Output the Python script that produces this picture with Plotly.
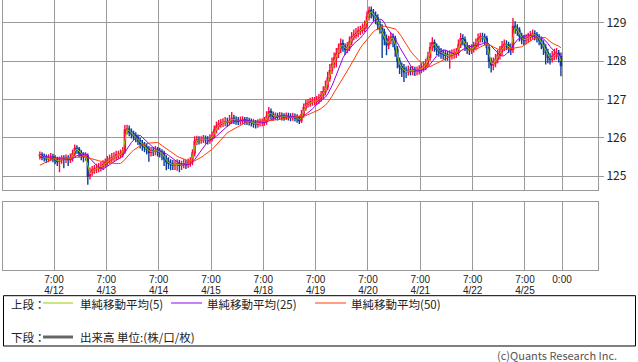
import plotly.graph_objects as go
import pandas as pd

# ---------------- data (hourly bars, trading-hour index from 4/12 0:00 JST) ----------------
pre_close = [125.00, 125.02, 124.98, 125.05, 125.08, 125.10, 125.15, 125.25,
             125.35, 125.42, 125.48, 125.50, 125.52, 125.50, 125.53]

close = [
    # 4/12
    125.55, 125.50, 125.48, 125.45, 125.47, 125.50, 125.47, 125.42, 125.38, 125.42, 125.45, 125.44,
    125.46, 125.43, 125.47, 125.58, 125.72, 125.70, 125.60, 125.55, 125.50, 125.52, 125.00, 125.10,
    # 4/13
    125.15, 125.18, 125.20, 125.22, 125.25, 125.30, 125.35, 125.40, 125.45, 125.48, 125.50, 125.55,
    125.55, 125.58, 125.65, 126.20, 126.22, 126.15, 126.10, 126.05, 126.00, 125.92, 125.85, 125.80,
    # 4/14
    125.75, 125.70, 125.62, 125.66, 125.65, 125.67, 125.64, 125.62, 125.58, 125.45, 125.38, 125.33,
    125.30, 125.28, 125.30, 125.32, 125.28, 125.30, 125.32, 125.30, 125.35, 125.38, 125.60, 125.90,
    # 4/15
    125.95, 125.93, 125.95, 125.97, 125.95, 125.93, 125.98, 126.05, 126.20, 126.30, 126.35, 126.38,
    126.40, 126.42, 126.40, 126.45, 126.50, 126.47, 126.45, 126.43, 126.45, 126.46, 126.44, 126.43,
    # 4/16 - 4/18
    126.42, 126.40, 126.37, 126.35, 126.38, 126.40, 126.40, 126.42, 126.55, 126.68, 126.60, 126.55,
    126.56, 126.55, 126.57, 126.55, 126.54, 126.56, 126.55, 126.53, 126.55, 126.52, 126.50, 126.45,
    # 4/19
    126.60, 126.78, 126.88, 126.90, 126.93, 126.95, 126.95, 126.97, 127.03, 127.10, 127.20, 127.32,
    127.55, 127.75, 127.92, 128.08, 128.20, 128.32, 128.45, 128.38, 128.30, 128.35, 128.50, 128.63,
    # 4/20
    128.68, 128.72, 128.78, 128.80, 128.85, 128.92, 129.15, 129.32, 129.25, 129.18, 129.12, 128.95,
    128.85, 128.75, 128.58, 128.42, 128.55, 128.62, 128.58, 128.30, 128.00, 127.85, 127.80, 127.72,
    # 4/21
    127.72, 127.76, 127.74, 127.76, 127.73, 127.75, 127.78, 127.82, 127.86, 127.93, 128.10, 128.35,
    128.48, 128.38, 128.30, 128.25, 128.20, 128.18, 128.15, 128.14, 128.16, 128.18, 128.20, 128.22,
    # 4/22
    128.42, 128.58, 128.55, 128.40, 128.32, 128.30, 128.32, 128.38, 128.45, 128.58, 128.63, 128.62,
    128.58, 128.35, 128.00, 127.90, 127.95, 128.05, 128.15, 128.25, 128.38, 128.43, 128.42, 128.35,
    # 4/23 - 4/25
    128.30, 128.90, 128.85, 128.80, 128.65, 128.58, 128.55, 128.58, 128.62, 128.66, 128.70, 128.68,
    128.62, 128.55, 128.45, 128.35, 128.22, 128.10, 128.05, 128.12, 128.18, 128.20, 128.12, 127.88,
]

high = [
    125.64, 125.62, 125.59, 125.56, 125.57, 125.60, 125.58, 125.54, 125.50, 125.51, 125.54, 125.54,
    125.56, 125.54, 125.59, 125.69, 125.82, 125.80, 125.76, 125.68, 125.62, 125.62, 125.59, 125.22,
    125.26, 125.29, 125.32, 125.34, 125.37, 125.41, 125.46, 125.52, 125.56, 125.60, 125.62, 125.66,
    125.66, 125.69, 125.76, 126.33, 126.34, 126.32, 126.24, 126.18, 126.14, 126.08, 126.00, 125.94,
    125.89, 125.84, 125.78, 125.76, 125.76, 125.78, 125.76, 125.74, 125.70, 125.66, 125.54, 125.49,
    125.44, 125.42, 125.41, 125.44, 125.42, 125.40, 125.44, 125.42, 125.46, 125.49, 125.70, 126.04,
    126.05, 126.04, 126.04, 126.07, 126.06, 126.04, 126.09, 126.16, 126.32, 126.42, 126.46, 126.49,
    126.51, 126.54, 126.52, 126.59, 126.67, 126.60, 126.56, 126.54, 126.55, 126.56, 126.54, 126.54,
    126.52, 126.50, 126.48, 126.46, 126.48, 126.50, 126.50, 126.54, 126.69, 126.80, 126.76, 126.68,
    126.66, 126.65, 126.67, 126.66, 126.64, 126.66, 126.65, 126.64, 126.65, 126.63, 126.61, 126.58,
    126.72, 126.89, 126.99, 127.01, 127.04, 127.06, 127.06, 127.09, 127.14, 127.22, 127.34, 127.49,
    127.72, 127.92, 128.09, 128.22, 128.34, 128.46, 128.59, 128.56, 128.46, 128.49, 128.64, 128.76,
    128.82, 128.86, 128.90, 128.92, 128.98, 129.06, 129.29, 129.42, 129.42, 129.36, 129.29, 129.22,
    129.06, 128.96, 128.84, 128.69, 128.66, 128.74, 128.72, 128.66, 128.39, 128.09, 127.96, 127.92,
    127.86, 127.88, 127.86, 127.87, 127.85, 127.86, 127.89, 127.94, 127.99, 128.06, 128.24, 128.49,
    128.62, 128.56, 128.46, 128.40, 128.34, 128.30, 128.28, 128.26, 128.28, 128.30, 128.32, 128.34,
    128.56, 128.73, 128.70, 128.64, 128.49, 128.42, 128.44, 128.50, 128.59, 128.72, 128.74, 128.74,
    128.72, 128.66, 128.44, 128.09, 128.09, 128.19, 128.29, 128.39, 128.52, 128.56, 128.54, 128.50,
    128.46, 129.12, 129.04, 128.96, 128.88, 128.74, 128.68, 128.70, 128.74, 128.78, 128.82, 128.80,
    128.76, 128.70, 128.64, 128.54, 128.44, 128.32, 128.20, 128.26, 128.32, 128.34, 128.29, 128.22,
]

low = [
    125.43, 125.41, 125.38, 125.34, 125.36, 125.39, 125.36, 125.31, 125.26, 125.10, 125.32, 125.20,
    125.34, 125.26, 125.34, 125.38, 125.51, 125.58, 125.48, 125.41, 125.36, 125.40, 124.77, 124.91,
    125.01, 125.06, 125.08, 125.10, 125.12, 125.16, 125.21, 125.26, 125.32, 125.36, 125.38, 125.41,
    125.44, 125.46, 125.48, 125.58, 126.08, 126.04, 125.98, 125.94, 125.88, 125.81, 125.72, 125.66,
    125.62, 125.56, 125.37, 125.51, 125.52, 125.54, 125.51, 125.48, 125.41, 125.26, 125.15, 125.18,
    125.15, 125.16, 125.16, 125.14, 125.10, 125.16, 125.20, 125.18, 125.21, 125.24, 125.28, 125.51,
    125.81, 125.82, 125.84, 125.86, 125.84, 125.82, 125.84, 125.90, 125.98, 126.11, 126.21, 126.26,
    126.28, 126.30, 126.28, 126.32, 126.36, 126.36, 126.34, 126.33, 126.34, 126.36, 126.34, 126.33,
    126.32, 126.29, 126.26, 126.24, 126.26, 126.29, 126.30, 126.31, 126.34, 126.46, 126.48, 126.44,
    126.46, 126.45, 126.46, 126.45, 126.44, 126.46, 126.45, 126.43, 126.44, 126.42, 126.39, 126.36,
    126.38, 126.52, 126.70, 126.79, 126.81, 126.83, 126.84, 126.85, 126.88, 126.94, 127.01, 127.11,
    127.24, 127.46, 127.66, 127.81, 127.84, 128.08, 128.21, 128.24, 128.16, 128.21, 128.26, 128.41,
    128.54, 128.58, 128.62, 128.68, 128.71, 128.76, 128.84, 129.06, 129.11, 129.04, 128.96, 128.81,
    128.71, 128.08, 128.41, 128.15, 128.31, 128.44, 128.36, 128.11, 127.81, 127.66, 127.58, 127.45,
    127.56, 127.62, 127.62, 127.63, 127.61, 127.63, 127.65, 127.68, 127.72, 127.76, 127.84, 128.01,
    128.26, 128.24, 128.16, 128.11, 128.06, 128.04, 128.01, 128.01, 127.80, 128.04, 128.06, 128.08,
    128.14, 128.34, 128.41, 128.26, 128.18, 128.16, 128.18, 128.22, 128.28, 128.36, 128.48, 128.48,
    128.41, 128.16, 127.81, 127.70, 127.76, 127.84, 127.94, 128.04, 128.14, 128.26, 128.28, 128.21,
    128.16, 128.21, 128.71, 128.66, 128.51, 128.44, 128.42, 128.44, 128.48, 128.52, 128.56, 128.54,
    128.48, 128.41, 128.31, 128.16, 127.91, 127.94, 127.91, 127.96, 128.02, 128.04, 127.96, 127.60,
]

# moving-average periods of the chart and their hourly-bar equivalents used here
ma_specs = [("単純移動平均(5)", 2, "#99cc00"),
            ("単純移動平均(25)", 8, "#9a00f0"),
            ("単純移動平均(50)", 16, "#ff3c00")]

tick_hours = [7, 31, 55, 79, 103, 127, 151, 175, 199, 223, 240]
time_labels = ["7:00"] * 10 + ["0:00"]
date_labels = ["4/12", "4/13", "4/14", "4/15", "4/18", "4/19", "4/20", "4/21", "4/22", "4/25", ""]
y_ticks = [125, 126, 127, 128, 129]

# ---------------- build ----------------
W, H = 638, 362
def px(x):
    return x / W
def py(y):
    return 1 - y / H

n = len(close)
xs = [i + 0.5 for i in range(n)]
opens = [pre_close[-1]] + close[:-1]
full = pd.Series(pre_close + close)

GRID = "#9a9a9a"
FONT = "Noto Sans CJK JP"
TICKFONT = "Liberation Sans"

fig = go.Figure()
fig.add_trace(go.Candlestick(
    x=xs, open=opens, high=high, low=low, close=close,
    increasing=dict(line=dict(color="#ff0a40", width=1.4), fillcolor="#ff0a40"),
    decreasing=dict(line=dict(color="#0a3c9c", width=1.4), fillcolor="#0a3c9c"),
    whiskerwidth=0, showlegend=False, hoverinfo="skip", xaxis="x", yaxis="y"))

for name, win, col in ma_specs:
    ma = full.rolling(win, min_periods=1).mean().iloc[len(pre_close):].tolist()
    fig.add_trace(go.Scatter(x=xs, y=ma, mode="lines", name=name,
                             line=dict(color=col, width=1), showlegend=False,
                             hoverinfo="skip", xaxis="x", yaxis="y"))

# empty lower panel (volume: none for this instrument) + date-label axis
fig.add_trace(go.Scatter(x=[None], y=[None], mode="lines", showlegend=False,
                         xaxis="x2", yaxis="y2"))
fig.add_trace(go.Scatter(x=[None], y=[None], mode="lines", showlegend=False,
                         xaxis="x3", yaxis="y2"))

xr = [-16.4, 256.5]
fig.update_layout(
    width=W, height=H, margin=dict(l=0, r=0, t=0, b=0),
    paper_bgcolor="white", plot_bgcolor="white",
    font=dict(family=FONT, size=11, color="#222"),
    xaxis=dict(domain=[px(3), px(598)], range=xr, anchor="y",
               tickmode="array", tickvals=tick_hours, ticktext=[""] * len(tick_hours),
               showticklabels=False, showgrid=True, gridcolor=GRID, gridwidth=1,
               showline=True, linecolor=GRID, mirror=True, zeroline=False,
               rangeslider=dict(visible=False), fixedrange=True),
    yaxis=dict(domain=[py(190), py(0)], range=[124.635, 129.592], anchor="x", side="right",
               tickmode="array", tickvals=y_ticks, ticks="outside", ticklen=5, tickcolor=GRID,
               tickfont=dict(size=12, color="#222"),
               showgrid=True, gridcolor=GRID, gridwidth=1, showline=True, linecolor=GRID,
               mirror=True, zeroline=False),
    xaxis2=dict(domain=[px(3), px(598)], range=xr, anchor="y2",
                tickmode="array", tickvals=tick_hours, ticktext=time_labels,
                tickfont=dict(family=TICKFONT, size=10, color="#222"),
                showgrid=True, gridcolor=GRID, gridwidth=1, showline=True, linecolor=GRID,
                mirror=True, zeroline=False, ticks=""),
    xaxis3=dict(domain=[px(3), px(598)], range=xr, overlaying="x2", anchor="free",
                position=py(283), side="bottom",
                tickmode="array", tickvals=tick_hours, ticktext=date_labels,
                tickfont=dict(family=TICKFONT, size=10, color="#222"),
                showgrid=False, showline=False, zeroline=False, ticks=""),
    yaxis2=dict(domain=[py(270), py(201.7)], range=[0, 1], anchor="x2",
                showticklabels=False, showgrid=False, showline=True, linecolor=GRID,
                mirror=True, zeroline=False, ticks=""),
)

shapes = [dict(type="rect", xref="paper", yref="paper", x0=px(3.5), x1=px(635.5),
               y0=py(346), y1=py(295.7), line=dict(color="black", width=1))]
annotations = []

def leg_line(x0, x1, y, color, width):
    shapes.append(dict(type="line", xref="paper", yref="paper", x0=px(x0), x1=px(x1),
                       y0=py(y), y1=py(y), line=dict(color=color, width=width)))

def txt(x, y, s, anchor="left", color="#222", size=11.5):
    annotations.append(dict(xref="paper", yref="paper", x=px(x), y=py(y), text=s,
                            showarrow=False, xanchor=anchor, yanchor="middle", borderpad=0,
                            font=dict(family=FONT, size=size, color=color)))

row1, row2 = 304, 337
txt(10, row1, "上段：")
leg_pos = [(43, 73, 79), (171, 202, 206), (315, 346, 350)]
for (name, win, col), (a, b, t) in zip(ma_specs, leg_pos):
    leg_line(a, b, 303, col, 1)
    txt(t, row1, name)
txt(10, row2, "下段：")
leg_line(43, 73, row2, "#666666", 3)
txt(79, row2, "出来高 単位:(株/口/枚)")
txt(618, 354.5, "(c)Quants Research Inc.", anchor="right", color="#555", size=11)

fig.update_layout(shapes=shapes, annotations=annotations)
fig.write_html("out.html")
